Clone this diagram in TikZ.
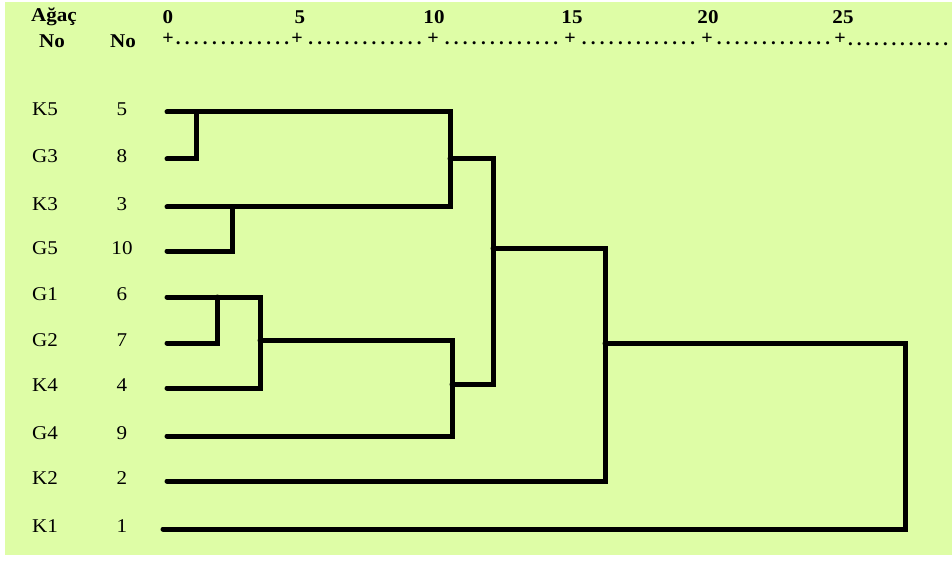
\documentclass[tikz,border=0pt]{standalone}
\usepackage{fontspec}
\setmainfont{Liberation Serif}
\definecolor{bggreen}{RGB}{222,253,166}
\newcommand{\wide}[1]{\scalebox{1.08}[1]{#1}}
\newcommand{\dotrow}[1]{\makebox[#1]{\xleaders\hbox to 8.6pt{\hss.\hss}\hfill}}
\begin{document}
\begin{tikzpicture}[x=1pt,y=-1pt,
  lbl/.style={inner sep=0pt,font=\fontsize{19.5}{22}\selectfont},
  hdr/.style={inner sep=0pt,font=\fontsize{19.5}{22}\selectfont\bfseries},
  rul/.style={inner sep=0pt,font=\fontsize{19}{22}\selectfont\bfseries},
  branch/.style={line width=5pt,line cap=round,line join=miter}]
\useasboundingbox (0,0) rectangle (952,561);
\fill[white] (0,0) rectangle (952,561);
\fill[bggreen] (5,2) rectangle (952,555);
% header
\node[hdr] (hagac) at (54,17) {\wide{Ağaç}};
\node[hdr] (hno1) at (52,41) {\wide{No}};
\node[hdr] (hno2) at (123,41) {\wide{No}};
\node[hdr] (s0) at (168,17) {\wide{0}};
\node[hdr] (s5) at (300,17) {\wide{5}};
\node[hdr] (s10) at (434,17) {\wide{10}};
\node[hdr] (s15) at (572,17) {\wide{15}};
\node[hdr] (s20) at (708,17) {\wide{20}};
\node[hdr] (s25) at (843,17) {\wide{25}};
\foreach \x/\n in {168/p0,297/p5,433/p10,570/p15,707/p20,840/p25}{
  \node[inner sep=0pt,font=\fontsize{20}{22}\selectfont] (\n) at (\x,39) {\textbf{+}};
}
\foreach \a/\b in {p0/p5,p5/p10,p10/p15,p15/p20,p20/p25}{
  \path (\a.east) -- (\b.west) node[midway,rul,anchor=base,yshift=-6pt] {\dotrow{118pt}};
}
\node[rul,anchor=base west] (ptail) at (846,46) {\dotrow{104pt}};
% leaf labels
\foreach \nm/\num/\y in {K5/5/112,G3/8/159,K3/3/207,G5/10/251,G1/6/297,G2/7/343,K4/4/388,G4/9/436,K2/2/481,K1/1/529}{
  \node[lbl] (n\nm) at (45,\y-3) {\wide{\nm}};
  \node[lbl] (c\nm) at (122,\y-3) {\wide{\num}};
  \coordinate (e\nm) at (167,\y);
}
\coordinate (eK1) at (163,529);
% junction coordinates
\coordinate (jA) at (196,112);   % K5-G3
\coordinate (jB) at (232,207);   % K3-G5
\coordinate (jC) at (217,297);   % G1-G2
\coordinate (jD) at (260,340);   % (G1,G2)-K4
\coordinate (jE) at (450,159);   % (K5,G3)-(K3,G5)
\coordinate (jF) at (452,384);   % (G1,G2,K4)-G4
\coordinate (jG) at (493,248);
\coordinate (jH) at (605,343);
\coordinate (jI) at (905,529);
% branches
\draw[branch] (eG3) -| (jA);
\draw[branch] (eK5) -| (jE) |- (eK3);
\draw[branch] (eG5) -| (jB);
\draw[branch] (eG2) -| (jC);
\draw[branch] (eG1) -| (jD) |- (eK4);
\draw[branch] (jD) -- (jD -| jF) |- (eG4);
\draw[branch] (jE) -| (jG) |- (jF);
\draw[branch] (jG) -| (jH) |- (eK2);
\draw[branch] (jH) -| (jI) -- (eK1);
\end{tikzpicture}
\end{document}
